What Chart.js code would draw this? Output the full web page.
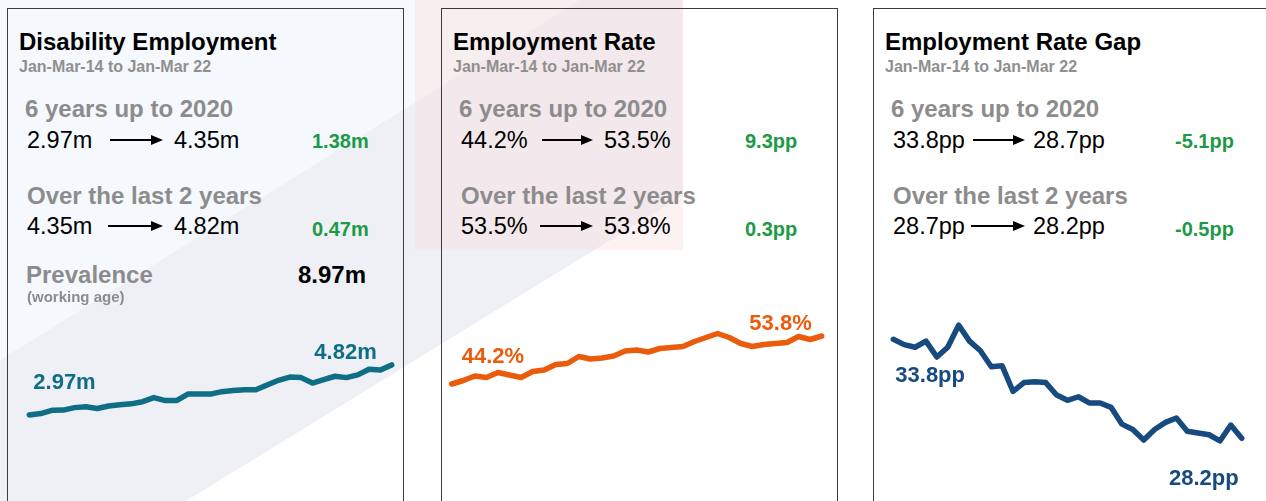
<!DOCTYPE html>
<html>
<head>
<meta charset="utf-8">
<script src="https://cdn.jsdelivr.net/npm/chart.js@4.4.0/dist/chart.umd.min.js"></script>
<style>
  html, body { margin: 0; padding: 0; }
  body { width: 1266px; height: 501px; overflow: hidden; position: relative; background: #fff;
         font-family: "Liberation Sans", Arial, sans-serif; }
  #bg { position: absolute; left: 0; top: 0; }
  .panel { position: absolute; top: 8px; height: 520px; border: 1.5px solid #3c3c3c; box-sizing: border-box; }
  .t { position: absolute; white-space: nowrap; line-height: 1; }
  canvas.line { position: absolute; }
</style>
</head>
<body>
<svg id="bg" width="1266" height="501">
  <defs><clipPath id="cl"><rect x="0" y="0" width="683" height="501"/></clipPath></defs>
  <g clip-path="url(#cl)">
    <polygon points="0,0 580,0 0,360" fill="#f5f8fc"/>
    <polygon points="0,360 580,0 1001,0 186,501 0,501" fill="#eff0f5"/>
    <rect x="415" y="0" width="268" height="250" fill="#f9dede" opacity="0.38"/>
  </g>
</svg>
<div class="panel" style="left:7px;width:397px"></div>
<div class="panel" style="left:441px;width:397px"></div>
<div class="panel" style="left:873px;width:400px"></div>

<canvas class="line" id="c1" width="394" height="200" style="left:8px;top:300px"></canvas>
<canvas class="line" id="c2" width="395" height="200" style="left:442px;top:300px"></canvas>
<canvas class="line" id="c3" width="392" height="200" style="left:874px;top:300px"></canvas>

<script>
const quarters = ["Jan-Mar 14","Apr-Jun 14","Jul-Sep 14","Oct-Dec 14",
  "Jan-Mar 15","Apr-Jun 15","Jul-Sep 15","Oct-Dec 15",
  "Jan-Mar 16","Apr-Jun 16","Jul-Sep 16","Oct-Dec 16",
  "Jan-Mar 17","Apr-Jun 17","Jul-Sep 17","Oct-Dec 17",
  "Jan-Mar 18","Apr-Jun 18","Jul-Sep 18","Oct-Dec 18",
  "Jan-Mar 19","Apr-Jun 19","Jul-Sep 19","Oct-Dec 19",
  "Jan-Mar 20","Apr-Jun 20","Jul-Sep 20","Oct-Dec 20",
  "Jan-Mar 21","Apr-Jun 21","Jul-Sep 21","Oct-Dec 21",
  "Jan-Mar 22"]

// disabled people in employment (millions)
const employed = [2.97,3.02,3.14,3.15,3.24,3.27,3.21,3.30,3.35,3.38,3.46,3.61,3.50,3.50,3.74,3.74,
  3.74,3.83,3.87,3.90,3.90,4.08,4.25,4.37,4.35,4.15,4.28,4.40,4.35,4.45,4.66,4.63,4.82]
// employment rate (%)
const rate = [44.2,44.9,45.8,45.5,46.5,46.0,45.5,46.7,47.0,48.1,48.3,49.7,49.2,49.4,49.8,50.8,
  51.0,50.6,51.3,51.5,51.7,52.7,53.5,54.3,53.5,52.3,51.7,52.1,52.3,52.5,53.7,53.1,53.8]
// employment rate gap (pp)
const gap = [33.8,33.5,33.35,33.7,32.8,33.35,34.6,33.7,33.15,32.25,32.3,30.85,31.35,31.4,31.35,30.65,
  30.35,30.55,30.2,30.2,29.95,29.0,28.7,28.1,28.7,29.1,29.35,28.6,28.5,28.4,28.05,28.95,28.2]

const prevalence = "8.97m"
const period = "Jan-Mar-14 to Jan-Mar 22"
const i2020 = quarters.indexOf("Jan-Mar 20")
const iLast = quarters.length - 1

const FONT = '"Liberation Sans", Arial, sans-serif'
const GREY = "#8c8c8c"
const GREEN = "#1d9a46"

function addText(txt, x, base, size, weight, color, align) {
    const d = document.createElement("div")
    d.className = "t"
    d.textContent = txt
    d.style.fontSize = size + "px"
    d.style.fontWeight = weight
    d.style.color = color
    d.style.left = x + "px"
    d.style.top = (base - 0.8465 * size) + "px"
    if (align === "right") d.style.transform = "translateX(-100%)"
    document.body.appendChild(d)
}

function addArrow(x1, x2, y) {
    const w = x2 - x1
    const ns = "http://www.w3.org/2000/svg"
    const s = document.createElementNS(ns, "svg")
    s.setAttribute("width", w)
    s.setAttribute("height", 12)
    s.style.position = "absolute"
    s.style.left = x1 + "px"
    s.style.top = (y - 6) + "px"
    s.innerHTML = '<line x1="0" y1="6" x2="' + (w - 9) + '" y2="6" stroke="#000" stroke-width="2"/>' +
        '<polygon points="' + (w - 12) + ',1 ' + w + ',6 ' + (w - 12) + ',11" fill="#000"/>'
    document.body.appendChild(s)
}

// text blocks of one panel
function panelText(p) {
    const L = p.left
    addText(p.title, L + 12, 50, 24, "bold", "#000")
    addText(period, L + 12, 73, 16, "bold", "#8f8f8f")
    addText("6 years up to 2020", L + 18, 117, 24, "bold", GREY)
    const v = p.values
    const a = v[0].toFixed(p.dec) + p.unit, b = v[i2020].toFixed(p.dec) + p.unit, c = v[iLast].toFixed(p.dec) + p.unit
    addText(a, L + 20, 149, 23.5, "normal", "#000")
    addArrow(L + p.arrow[0], L + p.arrow[1], 140)
    addText(b, L + p.second, 149, 23.5, "normal", "#000")
    addText((v[i2020] - v[0]).toFixed(p.dec) + p.diffUnit, L + p.green, 148, 20, "bold", GREEN)
    addText("Over the last 2 years", L + 20, 204, 24, "bold", GREY)
    addText(b, L + 20, 235, 23.5, "normal", "#000")
    addArrow(L + p.arrow[0] - 2, L + p.arrow[1], 226)
    addText(c, L + p.second, 235, 23.5, "normal", "#000")
    addText((v[iLast] - v[i2020]).toFixed(p.dec) + p.diffUnit, L + p.green, 236, 20, "bold", GREEN)
}

const panels = [
    { left: 7, title: "Disability Employment", values: employed, dec: 2, unit: "m", diffUnit: "m", arrow: [103, 156], second: 167, green: 305 },
    { left: 441, title: "Employment Rate", values: rate, dec: 1, unit: "%", diffUnit: "pp", arrow: [101, 152], second: 163, green: 304 },
    { left: 873, title: "Employment Rate Gap", values: gap, dec: 1, unit: "pp", diffUnit: "pp", arrow: [100, 152], second: 160, green: 302 },
]
panels.forEach(panelText)

addText("Prevalence", 26, 283, 24, "bold", GREY)
addText("(working age)", 27, 302, 15, "bold", GREY)
addText(prevalence, 366, 283, 24, "bold", "#000", "right")

// first / last value labels next to the line
const endLabels = {
    id: "endLabels",
    afterDatasetsDraw(chart) {
        const o = chart.config.options.plugins.endLabels
        const pts = chart.getDatasetMeta(0).data
        const ctx = chart.ctx
        ctx.save()
        ctx.font = "bold 22px " + FONT
        ctx.fillStyle = o.color
        ctx.textBaseline = "alphabetic"
        const p0 = pts[0], p1 = pts[pts.length - 1]
        ctx.textAlign = "left"
        ctx.fillText(o.first, p0.x + o.fd[0], p0.y + o.fd[1])
        ctx.textAlign = "right"
        ctx.fillText(o.last, p1.x + o.ld[0], p1.y + o.ld[1])
        ctx.restore()
    },
}

function lineChart(id, values, color, yMin, yMax, pad, lab) {
    return new Chart(document.getElementById(id), {
        type: "line",
        data: {
            labels: quarters,
            datasets: [{
                data: values,
                borderColor: color,
                borderWidth: 5.5,
                pointRadius: 0,
                tension: 0,
                borderJoinStyle: "round",
                borderCapStyle: "round",
                clip: false,
            }],
        },
        options: {
            responsive: false,
            animation: false,
            layout: { padding: pad },
            plugins: {
                legend: { display: false },
                tooltip: { enabled: false },
                endLabels: Object.assign({ color: color }, lab),
            },
            scales: {
                x: { display: false, offset: false },
                y: { display: false, min: yMin, max: yMax },
            },
        },
        plugins: [endLabels],
    })
}

lineChart("c1", employed, "#0d6e86", 1, 6, { left: 21.3, right: 10.3, top: 33, bottom: 31.8 },
    { first: employed[0].toFixed(2) + "m", last: employed[iLast].toFixed(2) + "m", fd: [4, -26], ld: [-15, -6] })
lineChart("c2", rate, "#ea5b0c", 40, 56, { left: 9.7, right: 15.3, top: 25, bottom: 95 },
    { first: rate[0].toFixed(1) + "%", last: rate[iLast].toFixed(1) + "%", fd: [10, -21], ld: [-10, -6] })
lineChart("c3", gap, "#174a7e", 27, 35, { left: 19.3, right: 24.3, top: 18.1, bottom: 40.5 },
    { first: gap[0].toFixed(1) + "pp", last: gap[iLast].toFixed(1) + "pp", fd: [2, 43], ld: [-3, 47] })
</script>
</body>
</html>
